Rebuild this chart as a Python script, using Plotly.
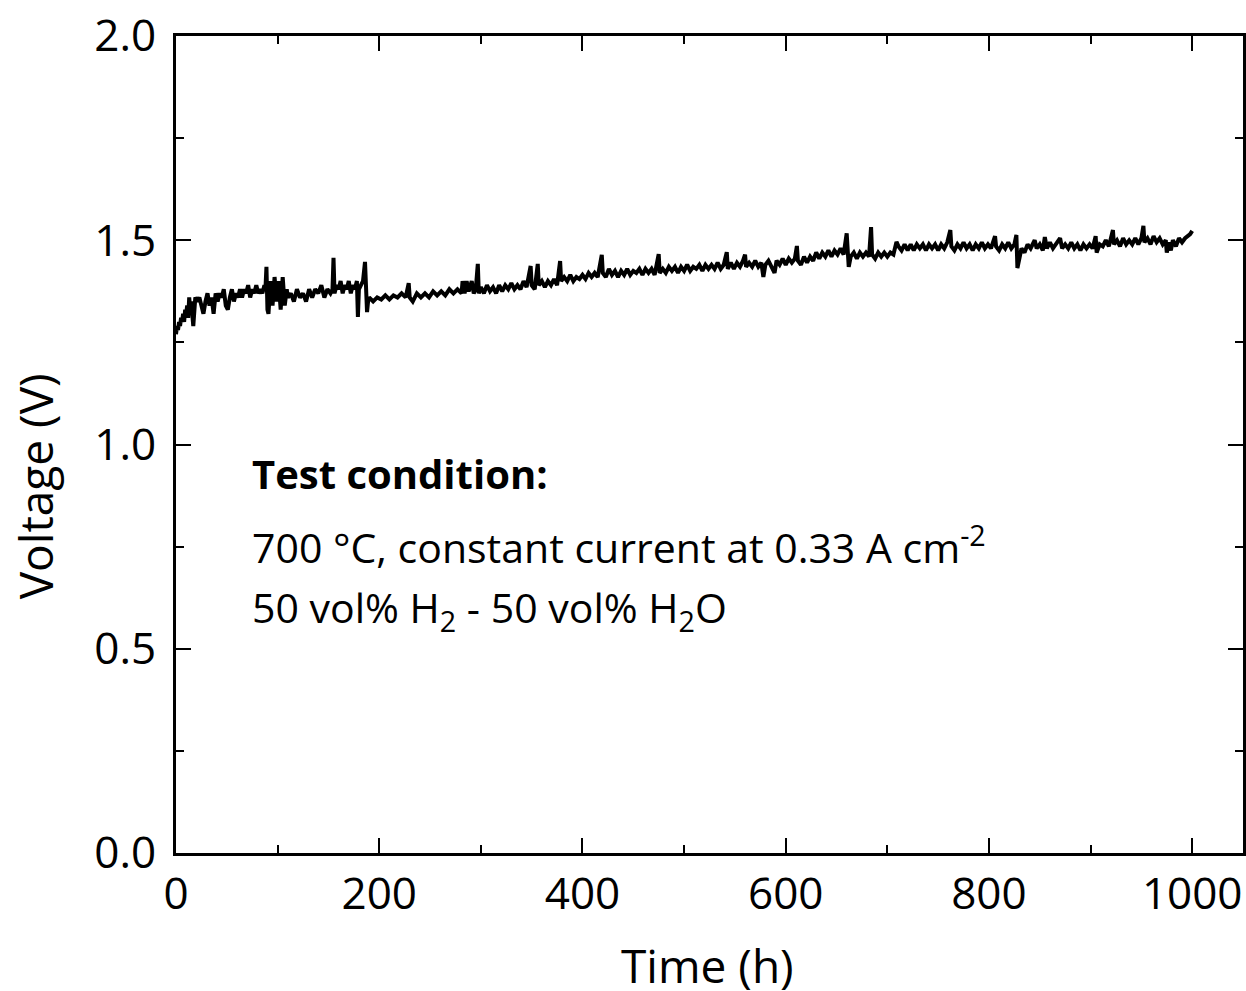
import plotly.graph_objects as go

time_h = [0, 1, 2, 3, 4, 5, 6, 7, 8, 9, 10, 11, 12, 13, 14, 15, 17, 19,
          21, 23, 25, 27, 29, 31, 33, 35, 37, 39, 41, 43, 45, 47, 49, 51, 53, 55, 57, 59,
          61, 63, 65, 67, 69, 71, 73, 75, 77, 79, 81, 83, 85, 87,
          88, 89, 90, 91, 93, 95, 97, 99, 101, 103, 105, 107, 109,
          110, 113, 116, 119, 122, 125, 128, 131, 134, 137, 140, 143, 146, 149, 152, 154,
          155, 156, 158, 160, 162, 164, 166, 168, 170, 172, 174, 176, 178, 179, 180, 182, 184,
          186, 187, 188, 189,
          190, 194, 198, 202, 206, 210, 214, 218, 222, 226, 229, 230, 233, 237, 241, 245, 249,
          253, 257, 261, 265, 269, 273, 277, 281, 282, 284, 286, 288, 291, 293,
          295, 297, 298, 300, 303, 306, 309, 312, 315, 318, 321, 324, 327, 330, 333, 336, 339,
          342, 345, 349, 350, 353, 356, 357, 360, 363, 366, 369, 372, 375, 378, 379, 382, 385,
          388, 391, 394, 397, 400, 403, 406, 409, 412, 415, 419, 420, 423, 426, 429, 432, 435,
          438, 441, 444, 447, 450, 453, 456, 459, 462, 465, 468, 471, 475, 476, 479, 482, 485,
          488, 491, 494, 497, 500, 503, 506, 509, 512, 515, 518, 521, 524, 527, 530, 533, 536,
          539, 542, 543, 546, 549, 552, 555, 558, 560, 561, 564, 567, 570, 573, 576, 578, 580,
          583, 586, 589, 591, 594, 597, 600, 603, 606, 609, 611, 612, 615, 618, 621, 624, 627,
          630, 633, 636, 639, 642, 645, 648, 651, 654, 657, 660, 661, 662, 664, 667, 670, 673,
          676, 679, 682, 684, 685, 688, 691, 694, 697, 700, 703, 706, 709, 711, 714, 717, 720,
          723, 726, 729, 732, 735, 738, 741, 744, 747, 750, 753, 756, 759, 762, 763, 766, 769,
          772, 775, 778, 781, 784, 787, 790, 793, 796, 799, 802, 806, 807, 810, 813, 816, 819,
          822, 825, 827, 828, 830, 832, 835, 838, 841, 845, 847, 850, 853, 855, 857, 860, 863,
          866, 870, 872, 875, 878, 881, 884, 887, 890, 893, 896, 899, 902, 905, 906, 909, 912,
          915, 918, 922, 923, 926, 929, 932, 935, 938, 941, 944, 947, 950, 952, 953, 956, 959,
          962, 965, 968, 971, 974, 975, 977, 979, 981, 984, 987, 990, 993, 996, 998, 1000]

voltage_v = [1.27, 1.29, 1.28, 1.30, 1.29, 1.31, 1.30, 1.32, 1.30, 1.33, 1.32, 1.34, 1.31, 1.36, 1.33, 1.35, 1.29, 1.36,
             1.35, 1.36, 1.34, 1.32, 1.35, 1.37, 1.34, 1.36, 1.32, 1.37, 1.35, 1.37, 1.36, 1.38, 1.34, 1.33, 1.36, 1.38,
             1.35, 1.37, 1.36, 1.38, 1.36, 1.38, 1.37, 1.39, 1.36, 1.38, 1.37, 1.39, 1.37, 1.38, 1.37, 1.39,
             1.38, 1.435, 1.33, 1.32, 1.40, 1.34, 1.41, 1.35, 1.40, 1.33, 1.41, 1.34, 1.38,
             1.36, 1.37, 1.35, 1.38, 1.36, 1.37, 1.35, 1.38, 1.36, 1.38, 1.37, 1.39, 1.36, 1.38, 1.37, 1.38,
             1.457, 1.37, 1.39, 1.38, 1.40, 1.37, 1.39, 1.38, 1.40, 1.37, 1.39, 1.38, 1.40, 1.312, 1.38, 1.39, 1.40,
             1.447, 1.38, 1.324, 1.35,
             1.36, 1.35, 1.36, 1.355, 1.365, 1.355, 1.365, 1.36, 1.37, 1.36, 1.395, 1.36, 1.35, 1.37, 1.36, 1.37, 1.36,
             1.375, 1.365, 1.375, 1.365, 1.38, 1.37, 1.38, 1.37, 1.40, 1.37, 1.40, 1.375, 1.40, 1.37,
             1.38, 1.442, 1.37, 1.385, 1.37, 1.39, 1.375, 1.385, 1.37, 1.39, 1.375, 1.39, 1.38, 1.395, 1.38, 1.39, 1.38,
             1.40, 1.385, 1.437, 1.39, 1.38, 1.442, 1.39, 1.40, 1.385, 1.40, 1.39, 1.405, 1.39, 1.449, 1.40, 1.41, 1.40,
             1.415, 1.40, 1.41, 1.405, 1.415, 1.405, 1.42, 1.41, 1.42, 1.41, 1.464, 1.42, 1.41, 1.43, 1.415, 1.425, 1.41,
             1.425, 1.415, 1.43, 1.415, 1.425, 1.42, 1.43, 1.415, 1.43, 1.42, 1.43, 1.415, 1.466, 1.42, 1.43, 1.42, 1.435,
             1.425, 1.435, 1.42, 1.435, 1.425, 1.44, 1.425, 1.435, 1.43, 1.44, 1.425, 1.44, 1.43, 1.44, 1.43, 1.445, 1.43,
             1.44, 1.471, 1.43, 1.445, 1.43, 1.445, 1.435, 1.45, 1.465, 1.435, 1.445, 1.435, 1.45, 1.435, 1.445, 1.41, 1.44,
             1.45, 1.435, 1.42, 1.45, 1.44, 1.455, 1.44, 1.455, 1.445, 1.455, 1.486, 1.45, 1.44, 1.46, 1.445, 1.46, 1.45,
             1.47, 1.455, 1.47, 1.46, 1.475, 1.46, 1.475, 1.465, 1.48, 1.465, 1.517, 1.47, 1.435, 1.46, 1.47, 1.455, 1.47,
             1.46, 1.47, 1.46, 1.532, 1.465, 1.455, 1.47, 1.46, 1.47, 1.46, 1.47, 1.465, 1.496, 1.485, 1.475, 1.49, 1.475,
             1.49, 1.475, 1.49, 1.48, 1.49, 1.475, 1.49, 1.48, 1.49, 1.475, 1.49, 1.48, 1.495, 1.525, 1.485, 1.475, 1.49,
             1.48, 1.495, 1.48, 1.49, 1.475, 1.49, 1.48, 1.495, 1.48, 1.49, 1.48, 1.51, 1.485, 1.475, 1.49, 1.48, 1.495,
             1.48, 1.49, 1.513, 1.432, 1.46, 1.48, 1.47, 1.49, 1.48, 1.50, 1.48, 1.49, 1.475, 1.508, 1.48, 1.495, 1.48,
             1.49, 1.505, 1.48, 1.49, 1.48, 1.495, 1.48, 1.49, 1.475, 1.49, 1.48, 1.49, 1.48, 1.51, 1.47, 1.49, 1.485,
             1.50, 1.485, 1.525, 1.49, 1.50, 1.485, 1.505, 1.49, 1.50, 1.49, 1.505, 1.49, 1.505, 1.535, 1.495, 1.505, 1.49,
             1.51, 1.495, 1.505, 1.49, 1.50, 1.47, 1.495, 1.475, 1.50, 1.485, 1.505, 1.495, 1.505, 1.51, 1.515, 1.523]

x_ticks = [0, 200, 400, 600, 800, 1000]
y_ticks = [0.0, 0.5, 1.0, 1.5, 2.0]

FONT = "Open Sans"

fig = go.Figure()
fig.add_trace(go.Scatter(x=time_h, y=voltage_v, mode="lines",
                         line=dict(color="black", width=4), showlegend=False))

axis_common = dict(showline=True, linecolor="black", linewidth=3, mirror="allticks",
                   ticks="inside", ticklen=15, tickwidth=2, tickcolor="black",
                   showgrid=False, zeroline=False,
                   tickfont=dict(family=FONT, size=44, color="black"))

fig.update_xaxes(range=[0, 1050], tickvals=x_ticks, ticktext=[str(v) for v in x_ticks],
                 minor=dict(dtick=100, tick0=0, ticks="inside", ticklen=8, tickwidth=2, tickcolor="black"),
                 ticklabelstandoff=0, **axis_common)
fig.update_yaxes(range=[0, 2.0], tickvals=y_ticks, ticktext=[f"{v:.1f}" for v in y_ticks],
                 minor=dict(dtick=0.25, tick0=0, ticks="inside", ticklen=8, tickwidth=2, tickcolor="black"),
                 ticklabelstandoff=8, **axis_common)

fig.add_annotation(x=73, y=0.93, xref="x", yref="y", text="<b>Test condition:</b>",
                   showarrow=False, xanchor="left", yanchor="middle",
                   font=dict(family=FONT, size=40, color="black"))
fig.add_annotation(x=73, y=0.755, xref="x", yref="y",
                   text="700 °C, constant current at 0.33 A cm<sup>-2</sup>",
                   showarrow=False, xanchor="left", yanchor="middle",
                   font=dict(family=FONT, size=41, color="black"))
fig.add_annotation(x=73, y=0.595, xref="x", yref="y",
                   text="50 vol% H<sub>2</sub> - 50 vol% H<sub>2</sub>O",
                   showarrow=False, xanchor="left", yanchor="middle",
                   font=dict(family=FONT, size=41, color="black"))

fig.add_annotation(x=523, y=-0.137, xref="x", yref="paper", text="Time (h)",
                   showarrow=False, xanchor="center", yanchor="middle",
                   font=dict(family=FONT, size=46, color="black"))
fig.add_annotation(x=-0.132, y=0.898, xref="paper", yref="y", text="Voltage (V)",
                   showarrow=False, xanchor="center", yanchor="middle", textangle=-90,
                   font=dict(family=FONT, size=46, color="black"))

fig.update_layout(width=1246, height=991, paper_bgcolor="white", plot_bgcolor="white",
                  margin=dict(l=176, r=3, t=36, b=138, autoexpand=False))

fig.write_html("out.html", config={"displayModeBar": False},
               post_script="document.body.style.margin='0';document.body.style.overflow='hidden';")
